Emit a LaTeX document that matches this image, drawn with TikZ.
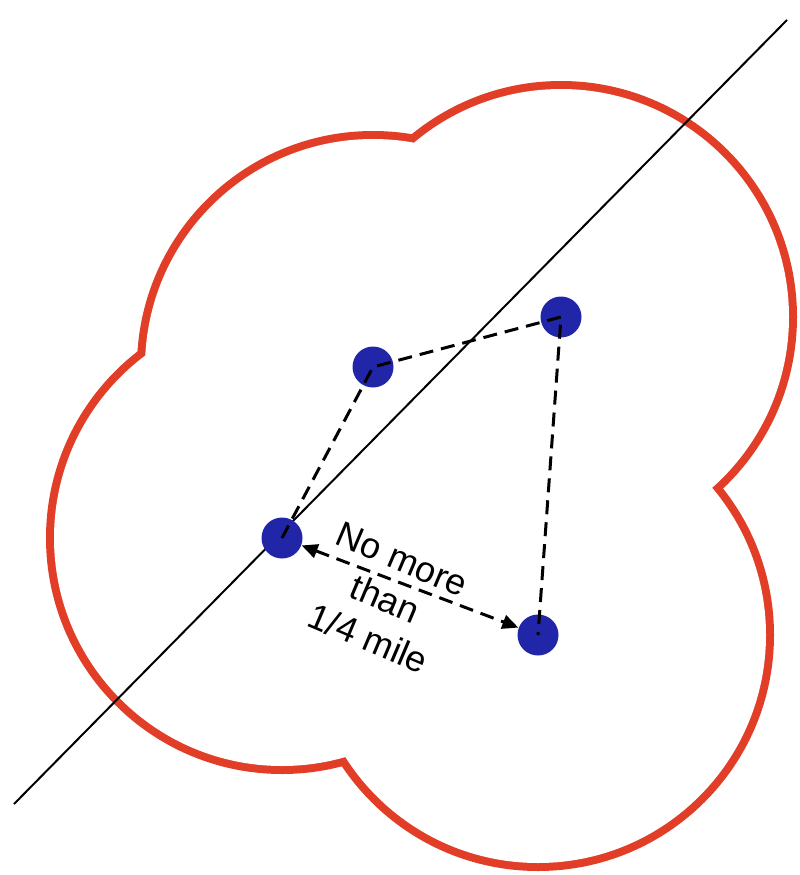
\documentclass[tikz,border=0pt]{standalone}
\usepackage{fontspec}
\setmainfont{Liberation Sans}
\usetikzlibrary{arrows.meta}
\definecolor{cloudred}{RGB}{226,61,39}
\definecolor{dotblue}{RGB}{33,38,168}
\tikzset{
  dotnode/.style={circle,fill=dotblue,inner sep=0pt,minimum size=41pt,draw=none},
  linkdash/.style={draw=black,line width=3pt,dash pattern=on 14pt off 8pt},
  cloudring/.style={draw=cloudred,line width=16pt},
  axisline/.style={draw=black,line width=2pt},
  distarrow/.style={linkdash,{Triangle[length=16pt,width=14pt]}-{Triangle[length=16pt,width=14pt]},shorten <=21pt,shorten >=21pt},
  lbl/.style={rotate=-23,align=center,font=\fontsize{36}{43}\selectfont,inner sep=0pt}
}
\begin{document}
\begin{tikzpicture}[x=1pt,y=-1pt]
\useasboundingbox (0,0) rectangle (800,875);
\fill[white] (0,0) rectangle (800,875);
% dot positions
\coordinate (pA) at (373,367);
\coordinate (pB) at (561,317);
\coordinate (pC) at (282,538);
\coordinate (pD) at (538,635);
% buffer outline: union of circles
\foreach \p in {pA,pB,pC,pD}{\draw[cloudring] (\p) circle[radius=228];}
\foreach \p in {pA,pB,pC,pD}{\fill[white] (\p) circle[radius=228];}
% straight line
\coordinate (L1) at (14,804);
\coordinate (L2) at (787,20);
\draw[axisline] (L1) -- (L2);
% dots
\node[dotnode] (A) at (pA) {};
\node[dotnode] (B) at (pB) {};
\node[dotnode] (C) at (pC) {};
\node[dotnode] (D) at (pD) {};
% dashed links
\draw[linkdash] (C.center) -- (A.center) -- (B.center) -- (D.center);
% distance arrow
\draw[distarrow] (C.center) -- (D.center);
% label
\node[lbl] (T) at (385,599) {No more\\than\\1/4 mile};
\end{tikzpicture}
\end{document}
